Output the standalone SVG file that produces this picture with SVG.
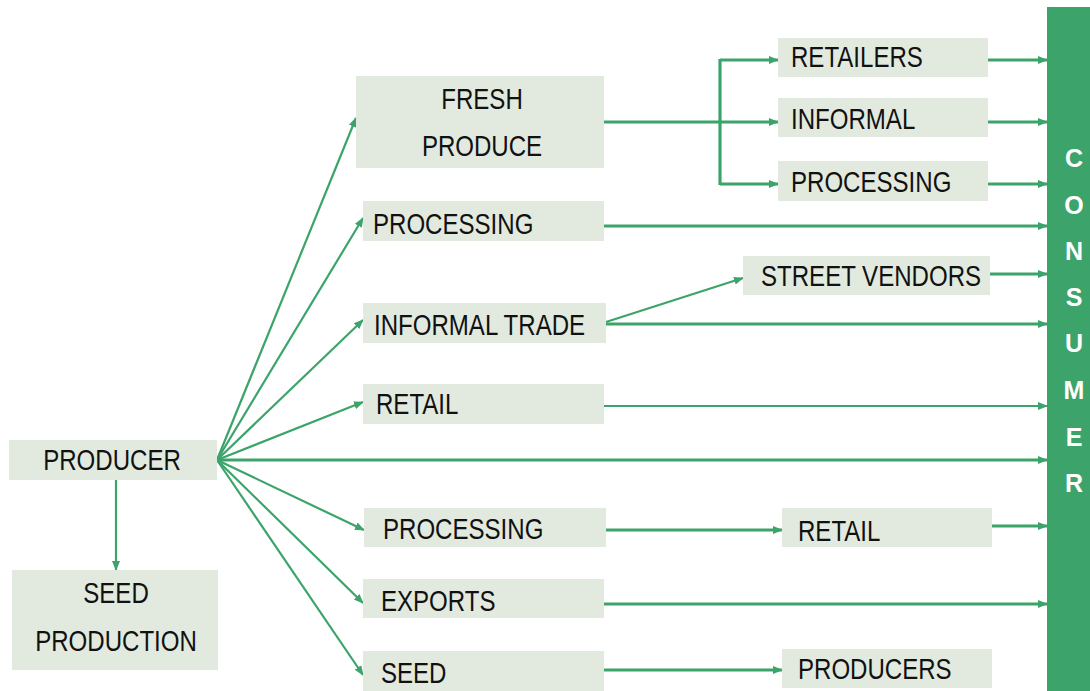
<svg xmlns="http://www.w3.org/2000/svg" width="1090" height="691" viewBox="0 0 1090 691">
  <defs>
    <marker id="arr" markerUnits="userSpaceOnUse" markerWidth="10" markerHeight="10" viewBox="0 0 10 10" refX="9" refY="5" orient="auto">
      <path d="M0,1 L10,5 L0,9 Z" fill="#3ca46b"/>
    </marker>
    <style>
      .box { fill: #e2eadf; }
      .lbl { font-family: "Liberation Sans", Arial, sans-serif; font-size: 29px; fill: #111; }
      .mid { text-anchor: middle; }
      .ln { stroke: #3ca46b; stroke-width: 2.2; fill: none; }
      .thick { stroke-width: 3.2; }
      .a { marker-end: url(#arr); }
      .cons { font-family: "Liberation Sans", Arial, sans-serif; font-size: 25px; font-weight: bold; fill: #ffffff; text-anchor: middle; }
    </style>
  </defs>

  <rect width="1090" height="691" fill="#ffffff"/>

  <!-- connectors -->
  <g id="connectors">
    <!-- producer fan-out -->
    <line class="ln a" x1="217" y1="460" x2="356" y2="118"/>
    <line class="ln a" x1="217" y1="460" x2="363" y2="218"/>
    <line class="ln a" x1="217" y1="460" x2="363" y2="320"/>
    <line class="ln a" x1="217" y1="460" x2="363" y2="402"/>
    <line class="ln thick a" x1="217" y1="460" x2="1047" y2="460"/>
    <line class="ln a" x1="217" y1="460" x2="364" y2="530"/>
    <line class="ln a" x1="217" y1="460" x2="363" y2="603"/>
    <line class="ln a" x1="217" y1="460" x2="363" y2="675"/>
    <line class="ln a" x1="116" y1="480" x2="116" y2="570"/>

    <!-- fresh produce branches -->
    <line class="ln thick" x1="604" y1="122" x2="720" y2="122"/>
    <line class="ln thick" x1="720" y1="59" x2="720" y2="185"/>
    <line class="ln thick a" x1="720" y1="60" x2="778" y2="60"/>
    <line class="ln thick a" x1="720" y1="122" x2="778" y2="122"/>
    <line class="ln thick a" x1="720" y1="184" x2="778" y2="184"/>

    <!-- into consumer -->
    <line class="ln thick a" x1="988" y1="60" x2="1047" y2="60"/>
    <line class="ln thick a" x1="988" y1="122" x2="1047" y2="122"/>
    <line class="ln thick a" x1="988" y1="184" x2="1047" y2="184"/>
    <line class="ln thick a" x1="604" y1="226" x2="1047" y2="226"/>
    <line class="ln thick a" x1="990" y1="274" x2="1047" y2="274"/>
    <line class="ln a" x1="606" y1="322" x2="743" y2="278"/>
    <line class="ln thick a" x1="606" y1="324" x2="1047" y2="324"/>
    <line class="ln a" x1="604" y1="406" x2="1047" y2="406"/>
    <line class="ln thick a" x1="606" y1="530" x2="782" y2="530"/>
    <line class="ln thick a" x1="992" y1="526" x2="1047" y2="526"/>
    <line class="ln thick a" x1="604" y1="604" x2="1047" y2="604"/>
    <line class="ln thick a" x1="604" y1="670" x2="782" y2="670"/>
  </g>

  <!-- nodes (labels use a horizontally condensed face) -->
  <g id="producer">
    <rect class="box" x="9" y="440" width="208" height="40"/>
    <g transform="translate(112,470) scale(0.83,1)"><text class="lbl mid">PRODUCER</text></g>
  </g>
  <g id="seed-production">
    <rect class="box" x="12" y="570" width="206" height="100"/>
    <g transform="translate(116,603) scale(0.83,1)"><text class="lbl mid">SEED</text></g>
    <g transform="translate(116,651) scale(0.83,1)"><text class="lbl mid">PRODUCTION</text></g>
  </g>
  <g id="fresh-produce">
    <rect class="box" x="356" y="76" width="248" height="92"/>
    <g transform="translate(482,109) scale(0.83,1)"><text class="lbl mid">FRESH</text></g>
    <g transform="translate(482,156) scale(0.83,1)"><text class="lbl mid">PRODUCE</text></g>
  </g>
  <g id="processing-a">
    <rect class="box" x="363" y="201" width="241" height="40"/>
    <g transform="translate(373,234) scale(0.83,1)"><text class="lbl">PROCESSING</text></g>
  </g>
  <g id="informal-trade">
    <rect class="box" x="363" y="303" width="243" height="40"/>
    <g transform="translate(374,335) scale(0.83,1)"><text class="lbl">INFORMAL TRADE</text></g>
  </g>
  <g id="retail-a">
    <rect class="box" x="363" y="384" width="241" height="40"/>
    <g transform="translate(376,414) scale(0.83,1)"><text class="lbl">RETAIL</text></g>
  </g>
  <g id="processing-b">
    <rect class="box" x="364" y="508" width="242" height="39"/>
    <g transform="translate(383,539) scale(0.83,1)"><text class="lbl">PROCESSING</text></g>
  </g>
  <g id="exports">
    <rect class="box" x="363" y="579" width="241" height="39"/>
    <g transform="translate(381,611) scale(0.83,1)"><text class="lbl">EXPORTS</text></g>
  </g>
  <g id="seed">
    <rect class="box" x="363" y="651" width="241" height="40"/>
    <g transform="translate(381,683) scale(0.83,1)"><text class="lbl">SEED</text></g>
  </g>
  <g id="retailers">
    <rect class="box" x="778" y="38" width="210" height="39"/>
    <g transform="translate(791,67) scale(0.83,1)"><text class="lbl">RETAILERS</text></g>
  </g>
  <g id="informal">
    <rect class="box" x="778" y="98" width="210" height="39"/>
    <g transform="translate(791,129) scale(0.83,1)"><text class="lbl">INFORMAL</text></g>
  </g>
  <g id="processing-c">
    <rect class="box" x="778" y="161" width="210" height="40"/>
    <g transform="translate(791,192) scale(0.83,1)"><text class="lbl">PROCESSING</text></g>
  </g>
  <g id="street-vendors">
    <rect class="box" x="743" y="256" width="247" height="39"/>
    <g transform="translate(761,286) scale(0.83,1)"><text class="lbl">STREET VENDORS</text></g>
  </g>
  <g id="retail-b">
    <rect class="box" x="782" y="508" width="210" height="39"/>
    <g transform="translate(798,541) scale(0.83,1)"><text class="lbl">RETAIL</text></g>
  </g>
  <g id="producers">
    <rect class="box" x="782" y="649" width="210" height="39"/>
    <g transform="translate(798,679) scale(0.83,1)"><text class="lbl">PRODUCERS</text></g>
  </g>
  <g id="consumer">
    <rect x="1047" y="7" width="43" height="684" fill="#3ca46b"/>
    <text class="cons" x="1074" y="167">C</text>
    <text class="cons" x="1074" y="214">O</text>
    <text class="cons" x="1074" y="260">N</text>
    <text class="cons" x="1074" y="306">S</text>
    <text class="cons" x="1074" y="352">U</text>
    <text class="cons" x="1074" y="399">M</text>
    <text class="cons" x="1074" y="446">E</text>
    <text class="cons" x="1074" y="492">R</text>
  </g>
</svg>
